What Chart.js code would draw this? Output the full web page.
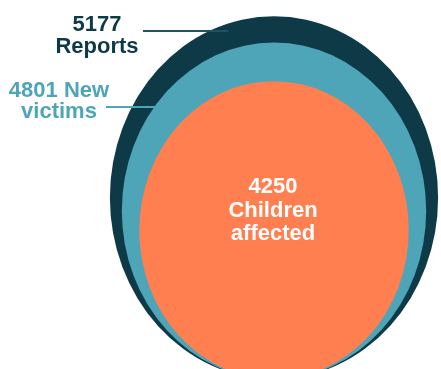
<!DOCTYPE html>
<html lang="en">
<head>
  <meta charset="UTF-8" />
  <title>Reports, victims and children</title>
  <script src="https://cdn.jsdelivr.net/npm/chart.js"></script>
  <style>
    body {
      margin: 0;
      background: #fff;
    }
    #wrap {
      width: 441px;
      height: 369px;
    }
  </style>
</head>
<body>
  <div id="wrap">
    <canvas id="nestedChart" width="441" height="369"></canvas>
  </div>

  <script>
    // data
    const categories = ['Reports', 'New victims', 'Children affected'];
    const counts = [5177, 4801, 4250];
    const labelLines = [['5177', 'Reports'], ['4801 New', 'victims'], ['4250', 'Children', 'affected']];
    const colors = ['#0e3a47', '#4ea5b8', '#ff7f50'];

    // each ellipse is as tall (and wide) as its count, all resting on y = 0
    const ellipsePlugin = {
      id: 'ellipses',
      beforeDatasetsDraw(chart) {
        const ctx = chart.ctx;
        const xs = chart.scales.x;
        const ys = chart.scales.y;
        ctx.save();
        chart.data.datasets.forEach((ds, i) => {
          const v = ds.data[0].y * 2;
          const cx = xs.getPixelForValue(ds.data[0].x);
          const cy = ys.getPixelForValue(ds.data[0].y);
          const rx = Math.abs(xs.getPixelForValue(ds.data[0].x + v / 2) - cx);
          const ry = Math.abs(ys.getPixelForValue(v) - cy);
          ctx.beginPath();
          ctx.ellipse(cx, cy, rx, ry, 0, 0, Math.PI * 2);
          ctx.fillStyle = ds.backgroundColor;
          ctx.fill();
        });
        ctx.restore();
      },
      afterDatasetsDraw(chart) {
        const ctx = chart.ctx;
        ctx.save();
        ctx.font = 'bold 22px "Liberation Sans", Arial, sans-serif';
        ctx.textAlign = 'center';
        ctx.textBaseline = 'alphabetic';

        // connector lines
        ctx.lineWidth = 2;
        ctx.strokeStyle = '#1b5563';
        ctx.beginPath();
        ctx.moveTo(143, 31);
        ctx.lineTo(228, 31);
        ctx.stroke();
        ctx.strokeStyle = colors[1];
        ctx.beginPath();
        ctx.moveTo(106, 107);
        ctx.lineTo(162, 107);
        ctx.stroke();

        ctx.fillStyle = colors[0];
        labelLines[0].forEach((t, j) => ctx.fillText(t, 97, 31 + j * 22));
        ctx.fillStyle = colors[1];
        labelLines[1].forEach((t, j) => ctx.fillText(t, 59, 97 + j * 21));
        ctx.fillStyle = '#ffffff';
        labelLines[2].forEach((t, j) => ctx.fillText(t, 273, 193 + j * 23.5));
        ctx.restore();
      }
    };

    const ctx = document.getElementById('nestedChart').getContext('2d');
    new Chart(ctx, {
      type: 'scatter',
      data: {
        datasets: categories.map((name, i) => ({
          label: name,
          data: [{ x: 0, y: counts[i] / 2 }],
          backgroundColor: colors[i],
          pointRadius: 0
        }))
      },
      options: {
        responsive: false,
        animation: false,
        layout: { padding: 0 },
        plugins: {
          legend: { display: false },
          tooltip: { enabled: false }
        },
        scales: {
          x: { display: false, min: -4322, max: 2634 },
          y: { display: false, min: 144, max: 5408 }
        }
      },
      plugins: [ellipsePlugin]
    });
  </script>
</body>
</html>
